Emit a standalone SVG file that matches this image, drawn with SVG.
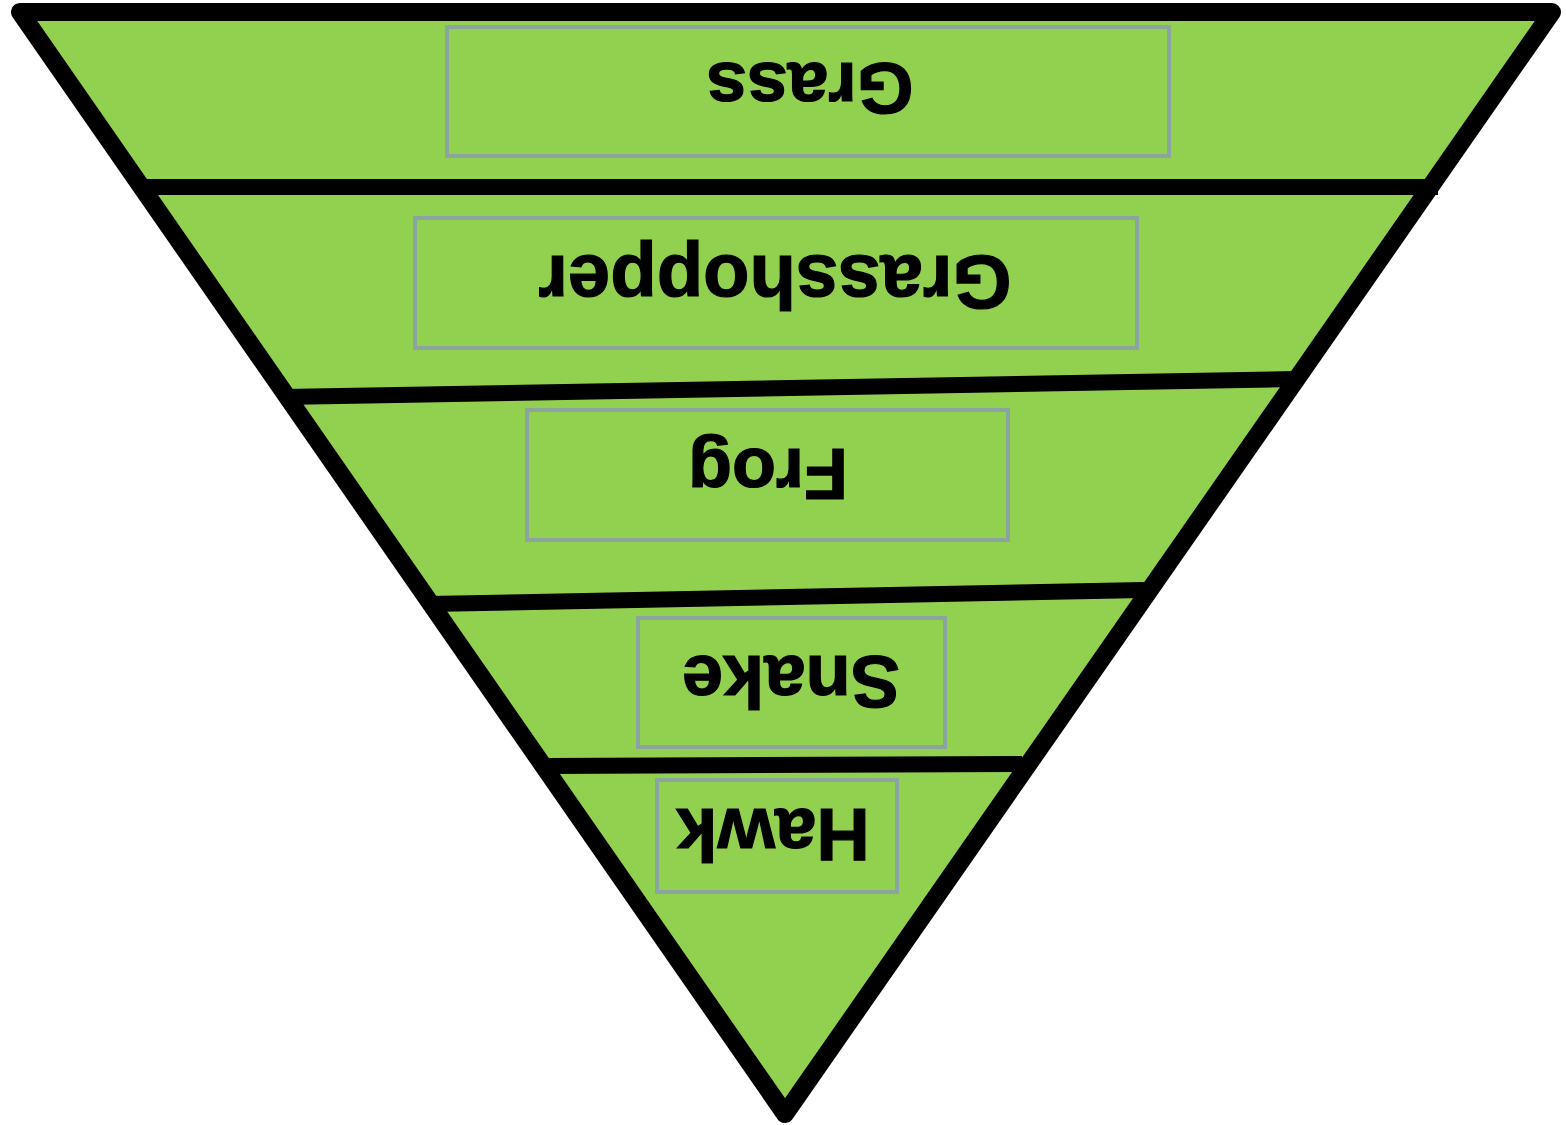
<svg xmlns="http://www.w3.org/2000/svg" width="1566" height="1125" viewBox="0 0 1566 1125">
<style>
.tri{fill:#92D050;stroke:#000;stroke-width:18;stroke-linejoin:round}
.div{stroke:#000;stroke-width:16;fill:none}
.box{fill:none;stroke:#8AA5A0;stroke-width:4}
.lbl{font-family:"Liberation Sans",Arial,sans-serif;font-weight:bold;font-size:74px;fill:#000;text-anchor:middle;stroke:#000;stroke-width:1.2}
</style>
<rect x="0" y="0" width="1566" height="1125" fill="#fff"/>
<g id="pyramid">
<polygon class="tri" points="20,12 1552,12 785,1114"/>
</g>
<g id="connectors">
<line class="div" x1="142" y1="187" x2="1438" y2="187"/>
<line class="div" x1="283" y1="397" x2="1294" y2="379"/>
<line class="div" x1="428" y1="604" x2="1144" y2="590"/>
<line class="div" x1="546" y1="766" x2="1022" y2="764"/>
</g>
<g id="grass">
<rect class="box" x="447" y="27" width="722" height="129"/>
<text class="lbl" style="font-size:73px" transform="translate(810,63) rotate(180)">Grass</text>
</g>
<g id="grasshopper">
<rect class="box" x="415" y="218" width="722" height="130"/>
<text class="lbl" style="font-size:76px" transform="translate(775,256) rotate(180)">Grasshopper</text>
</g>
<g id="frog">
<rect class="box" x="527" y="410" width="481" height="130"/>
<text class="lbl" style="font-size:72px" transform="translate(768,449) rotate(180)">Frog</text>
</g>
<g id="snake">
<rect class="box" x="638" y="618" width="307" height="129"/>
<text class="lbl" transform="translate(791,656) rotate(180)">Snake</text>
</g>
<g id="hawk">
<rect class="box" x="657" y="780" width="240" height="112"/>
<text class="lbl" transform="translate(773,809) rotate(180)">Hawk</text>
</g>
</svg>
